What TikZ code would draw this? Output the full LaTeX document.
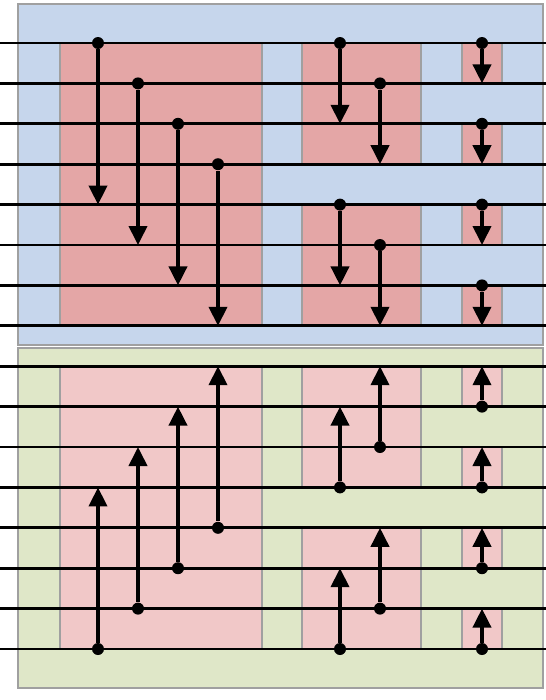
\documentclass[tikz,border=0pt]{standalone}
\usepackage{tikz}
\usetikzlibrary{arrows.meta}

\definecolor{blueBg}{RGB}{198,214,236}
\definecolor{greenBg}{RGB}{223,231,200}
\definecolor{redBox}{RGB}{228,166,166}
\definecolor{pinkBox}{RGB}{241,200,200}
\definecolor{edgeGray}{RGB}{160,160,160}

\tikzset{
  stage/.style={draw=edgeGray, line width=1.1pt},
  wire/.style={line width=1.6pt},
  dot/.style={circle, fill=black, inner sep=0pt, minimum size=0.24cm},
  cmp/.style={line width=2.2pt, -{Triangle[width=0.36cm,length=0.38cm]}}
}

\begin{document}
\begin{tikzpicture}[x=0.02cm, y=-0.02cm]
    \useasboundingbox (0,0) rectangle (546,700);

    % 背景 (上: 青, 下: 緑)
    \draw[stage, fill=blueBg] (18,4) rectangle (543,345);
    \draw[stage, fill=greenBg] (18,348) rectangle (543,688);

    % 比較ブロック (上半分)
    \draw[stage, fill=redBox] (60,43) rectangle (262,325.8);
    \draw[stage, fill=redBox] (302,43) rectangle (421,164.2);
    \draw[stage, fill=redBox] (302,204.6) rectangle (421,325.8);
    \draw[stage, fill=redBox] (462,43) rectangle (502,83.4);
    \draw[stage, fill=redBox] (462,123.8) rectangle (502,164.2);
    \draw[stage, fill=redBox] (462,204.6) rectangle (502,245);
    \draw[stage, fill=redBox] (462,285.4) rectangle (502,325.8);

    % 比較ブロック (下半分)
    \draw[stage, fill=pinkBox] (60,366.2) rectangle (262,649);
    \draw[stage, fill=pinkBox] (302,366.2) rectangle (421,487.4);
    \draw[stage, fill=pinkBox] (302,527.8) rectangle (421,649);
    \draw[stage, fill=pinkBox] (462,366.2) rectangle (502,406.6);
    \draw[stage, fill=pinkBox] (462,447) rectangle (502,487.4);
    \draw[stage, fill=pinkBox] (462,527.8) rectangle (502,568.2);
    \draw[stage, fill=pinkBox] (462,608.6) rectangle (502,649);

    % ワイヤ
    \coordinate (L1) at (0,43);       \coordinate (R1) at (546,43);
    \coordinate (L2) at (0,83.4);     \coordinate (R2) at (546,83.4);
    \coordinate (L3) at (0,123.8);    \coordinate (R3) at (546,123.8);
    \coordinate (L4) at (0,164.2);    \coordinate (R4) at (546,164.2);
    \coordinate (L5) at (0,204.6);    \coordinate (R5) at (546,204.6);
    \coordinate (L6) at (0,245);      \coordinate (R6) at (546,245);
    \coordinate (L7) at (0,285.4);    \coordinate (R7) at (546,285.4);
    \coordinate (L8) at (0,325.8);    \coordinate (R8) at (546,325.8);
    \coordinate (L9) at (0,366.2);    \coordinate (R9) at (546,366.2);
    \coordinate (L10) at (0,406.6);   \coordinate (R10) at (546,406.6);
    \coordinate (L11) at (0,447);     \coordinate (R11) at (546,447);
    \coordinate (L12) at (0,487.4);   \coordinate (R12) at (546,487.4);
    \coordinate (L13) at (0,527.8);   \coordinate (R13) at (546,527.8);
    \coordinate (L14) at (0,568.2);   \coordinate (R14) at (546,568.2);
    \coordinate (L15) at (0,608.6);   \coordinate (R15) at (546,608.6);
    \coordinate (L16) at (0,649);     \coordinate (R16) at (546,649);
    \draw[wire] (L1) -- (R1);
    \draw[wire] (L2) -- (R2);
    \draw[wire] (L3) -- (R3);
    \draw[wire] (L4) -- (R4);
    \draw[wire] (L5) -- (R5);
    \draw[wire] (L6) -- (R6);
    \draw[wire] (L7) -- (R7);
    \draw[wire] (L8) -- (R8);
    \draw[wire] (L9) -- (R9);
    \draw[wire] (L10) -- (R10);
    \draw[wire] (L11) -- (R11);
    \draw[wire] (L12) -- (R12);
    \draw[wire] (L13) -- (R13);
    \draw[wire] (L14) -- (R14);
    \draw[wire] (L15) -- (R15);
    \draw[wire] (L16) -- (R16);

    % 比較器 (上半分, 下向き)
    \node[dot] (A1) at (98,43) {};      \coordinate (A1e) at (98,204.6);
    \node[dot] (A2) at (138,83.4) {};   \coordinate (A2e) at (138,245);
    \node[dot] (A3) at (178,123.8) {};  \coordinate (A3e) at (178,285.4);
    \node[dot] (A4) at (218,164.2) {};  \coordinate (A4e) at (218,325.8);
    \node[dot] (B1) at (340,43) {};     \coordinate (B1e) at (340,123.8);
    \node[dot] (B2) at (380,83.4) {};   \coordinate (B2e) at (380,164.2);
    \node[dot] (B3) at (340,204.6) {};  \coordinate (B3e) at (340,285.4);
    \node[dot] (B4) at (380,245) {};    \coordinate (B4e) at (380,325.8);
    \node[dot] (C1) at (482,43) {};     \coordinate (C1e) at (482,83.4);
    \node[dot] (C2) at (482,123.8) {};  \coordinate (C2e) at (482,164.2);
    \node[dot] (C3) at (482,204.6) {};  \coordinate (C3e) at (482,245);
    \node[dot] (C4) at (482,285.4) {};  \coordinate (C4e) at (482,325.8);
    \draw[cmp] (A1) -- (A1e);
    \draw[cmp] (A2) -- (A2e);
    \draw[cmp] (A3) -- (A3e);
    \draw[cmp] (A4) -- (A4e);
    \draw[cmp] (B1) -- (B1e);
    \draw[cmp] (B2) -- (B2e);
    \draw[cmp] (B3) -- (B3e);
    \draw[cmp] (B4) -- (B4e);
    \draw[cmp] (C1) -- (C1e);
    \draw[cmp] (C2) -- (C2e);
    \draw[cmp] (C3) -- (C3e);
    \draw[cmp] (C4) -- (C4e);

    % 比較器 (下半分, 上向き)
    \node[dot] (D1) at (98,649) {};     \coordinate (D1e) at (98,487.4);
    \node[dot] (D2) at (138,608.6) {};  \coordinate (D2e) at (138,447);
    \node[dot] (D3) at (178,568.2) {};  \coordinate (D3e) at (178,406.6);
    \node[dot] (D4) at (218,527.8) {};  \coordinate (D4e) at (218,366.2);
    \node[dot] (E1) at (340,487.4) {};  \coordinate (E1e) at (340,406.6);
    \node[dot] (E2) at (380,447) {};    \coordinate (E2e) at (380,366.2);
    \node[dot] (E3) at (340,649) {};    \coordinate (E3e) at (340,568.2);
    \node[dot] (E4) at (380,608.6) {};  \coordinate (E4e) at (380,527.8);
    \node[dot] (F1) at (482,406.6) {};  \coordinate (F1e) at (482,366.2);
    \node[dot] (F2) at (482,487.4) {};  \coordinate (F2e) at (482,447);
    \node[dot] (F3) at (482,568.2) {};  \coordinate (F3e) at (482,527.8);
    \node[dot] (F4) at (482,649) {};    \coordinate (F4e) at (482,608.6);
    \draw[cmp] (D1) -- (D1e);
    \draw[cmp] (D2) -- (D2e);
    \draw[cmp] (D3) -- (D3e);
    \draw[cmp] (D4) -- (D4e);
    \draw[cmp] (E1) -- (E1e);
    \draw[cmp] (E2) -- (E2e);
    \draw[cmp] (E3) -- (E3e);
    \draw[cmp] (E4) -- (E4e);
    \draw[cmp] (F1) -- (F1e);
    \draw[cmp] (F2) -- (F2e);
    \draw[cmp] (F3) -- (F3e);
    \draw[cmp] (F4) -- (F4e);
  \end{tikzpicture}
\end{document}
